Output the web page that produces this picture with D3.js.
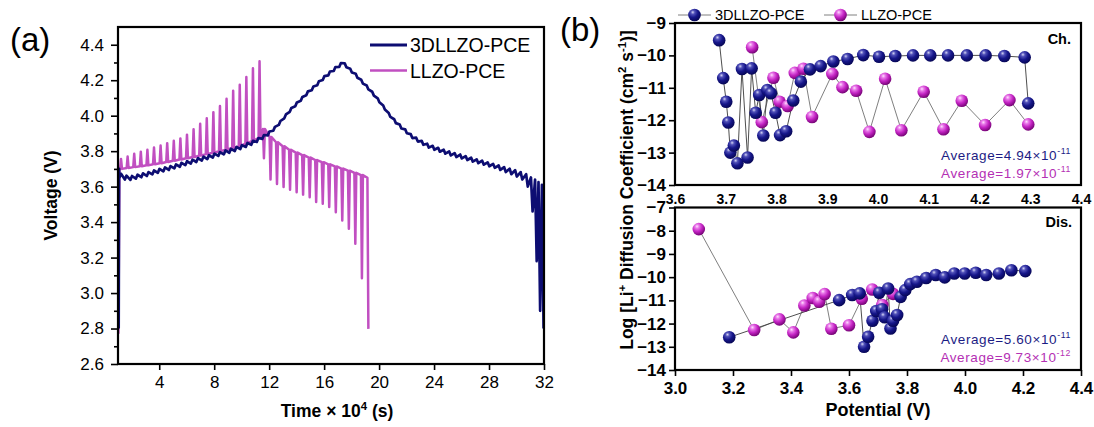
<!DOCTYPE html>
<html>
<head>
<meta charset="utf-8">
<script src="https://d3js.org/d3.v7.min.js"></script>
<style>
  body { margin: 0; background: #fff; }
  svg { display: block; }
</style>
</head>
<body>
<svg id="chart" width="1094" height="427"></svg>
<script>
// ---------- panel (a): GITT voltage profiles (time in 10^4 s, voltage in V)
// 3DLLZO-PCE charge pulses: pulse start, relaxed voltage, top of pulse
const navyChargeT = [1.1, 1.5, 1.9, 2.3, 2.7, 3.1, 3.5, 3.9, 4.3, 4.7, 5.1, 5.5, 5.9, 6.3, 6.7, 7.1, 7.5, 7.9, 8.3, 8.7,
  9.1, 9.5, 9.9, 10.3, 10.7, 11.1, 11.5, 11.9, 12.3, 12.7, 13.1, 13.5, 13.9, 14.3, 14.7, 15.1, 15.5, 15.9, 16.3, 16.7, 17.1]
const navyChargeRest = [3.650, 3.640, 3.638, 3.645, 3.653, 3.660, 3.669, 3.678, 3.686, 3.694, 3.703, 3.712, 3.721, 3.730,
  3.739, 3.747, 3.755, 3.764, 3.773, 3.782, 3.791, 3.801, 3.812, 3.824, 3.836, 3.852, 3.869, 3.889, 3.915, 3.948, 3.985,
  4.022, 4.053, 4.084, 4.115, 4.143, 4.172, 4.201, 4.227, 4.252, 4.275]
const navyChargePeak = [3.672, 3.662, 3.660, 3.667, 3.675, 3.682, 3.691, 3.700, 3.708, 3.716, 3.725, 3.734, 3.743, 3.752,
  3.761, 3.769, 3.777, 3.786, 3.795, 3.804, 3.813, 3.823, 3.834, 3.846, 3.858, 3.874, 3.891, 3.911, 3.937, 3.970, 4.007,
  4.044, 4.075, 4.106, 4.137, 4.165, 4.194, 4.223, 4.249, 4.274, 4.297]
// 3DLLZO-PCE discharge pulses: pulse start, relaxed voltage, bottom of pulse
const navyDisT = [17.5, 17.9, 18.3, 18.7, 19.1, 19.5, 19.9, 20.3, 20.7, 21.1, 21.5, 21.9, 22.3, 22.7, 23.1, 23.5, 23.9,
  24.3, 24.7, 25.1, 25.5, 25.9, 26.3, 26.7, 27.1, 27.5, 27.9, 28.3, 28.7, 29.1, 29.5, 29.9, 30.3, 30.7, 31.05, 31.35, 31.6, 31.85]
const navyDisRest = [4.295, 4.265, 4.236, 4.203, 4.170, 4.135, 4.098, 4.057, 4.015, 3.980, 3.950, 3.923, 3.896, 3.876,
  3.858, 3.842, 3.830, 3.819, 3.808, 3.798, 3.789, 3.781, 3.772, 3.763, 3.754, 3.746, 3.737, 3.728, 3.719, 3.710, 3.701,
  3.693, 3.682, 3.670, 3.652, 3.640, 3.625, 3.610]
const navyDisDip = [4.273, 4.243, 4.214, 4.181, 4.148, 4.113, 4.076, 4.035, 3.993, 3.958, 3.928, 3.901, 3.874, 3.854,
  3.836, 3.820, 3.808, 3.797, 3.786, 3.776, 3.767, 3.759, 3.750, 3.741, 3.732, 3.724, 3.715, 3.706, 3.694, 3.682, 3.670,
  3.657, 3.640, 3.600, 3.460, 3.180, 2.900, 2.800]
const navyStart = [[1.05, 2.80], [1.08, 3.70]]

// LLZO-PCE charge pulses
const pinkChargeT = [1.15, 1.63, 2.11, 2.59, 3.07, 3.55, 4.03, 4.51, 4.99, 5.47, 5.95, 6.43, 6.91, 7.39, 7.87, 8.35, 8.83,
  9.31, 9.79, 10.27, 10.75, 11.23]
const pinkChargeRest = [3.700, 3.705, 3.710, 3.715, 3.720, 3.726, 3.732, 3.739, 3.746, 3.753, 3.760, 3.767, 3.775, 3.783,
  3.791, 3.800, 3.809, 3.819, 3.830, 3.843, 3.858, 3.875]
const pinkChargePeak = [3.756, 3.770, 3.785, 3.797, 3.808, 3.820, 3.832, 3.845, 3.858, 3.872, 3.893, 3.923, 3.955, 3.985,
  4.020, 4.055, 4.095, 4.140, 4.175, 4.218, 4.268, 4.307]
// LLZO-PCE discharge pulses
const pinkDisT = [11.55, 12.03, 12.50, 12.98, 13.45, 13.93, 14.40, 14.88, 15.35, 15.83, 16.30, 16.78, 17.25, 17.73, 18.20, 18.68, 19.15]
const pinkDisRest = [3.925, 3.880, 3.850, 3.828, 3.808, 3.792, 3.778, 3.764, 3.750, 3.738, 3.726, 3.714, 3.702, 3.690, 3.678, 3.665, 3.650]
const pinkDisDip = [3.760, 3.640, 3.615, 3.598, 3.582, 3.568, 3.555, 3.540, 3.513, 3.504, 3.485, 3.456, 3.409, 3.362, 3.278, 3.084, 2.798]
const pinkStart = [[1.03, 2.77], [1.10, 3.70]]

const timeTicks = [4, 8, 12, 16, 20, 24, 28, 32]
const voltTicks = [2.6, 2.8, 3.0, 3.2, 3.4, 3.6, 3.8, 4.0, 4.2, 4.4]
const voltMinor = [2.7, 2.9, 3.1, 3.3, 3.5, 3.7, 3.9, 4.1, 4.3]

// ---------- panel (b): log Li+ diffusion coefficient vs potential
const chNavyV = [3.687, 3.695, 3.701, 3.705, 3.709, 3.716, 3.723, 3.732, 3.743, 3.751, 3.759, 3.766, 3.774, 3.782, 3.789,
  3.798, 3.807, 3.819, 3.833, 3.848, 3.866, 3.887, 3.912, 3.940, 3.971, 4.002, 4.034, 4.069, 4.103, 4.138, 4.175, 4.212,
  4.249, 4.289, 4.296]
const chNavyD = [-9.53, -10.70, -11.43, -12.07, -13.00, -12.78, -13.33, -10.42, -13.15, -10.40, -11.77, -11.22, -12.47,
  -11.07, -11.17, -11.77, -12.46, -12.34, -11.39, -10.81, -10.43, -10.33, -10.19, -10.11, -9.99, -10.04, -10.02, -10.00,
  -10.00, -10.00, -10.00, -10.00, -10.02, -10.06, -11.48]
const chPinkV = [3.752, 3.771, 3.794, 3.806, 3.822, 3.836, 3.853, 3.870, 3.910, 3.930, 3.957, 3.983, 4.014, 4.046, 4.090,
  4.129, 4.165, 4.211, 4.259, 4.296]
const chPinkD = [-9.75, -12.06, -10.69, -11.43, -11.56, -10.54, -10.41, -11.90, -10.57, -10.98, -11.09, -12.36, -10.72,
  -12.31, -11.12, -12.28, -11.40, -12.15, -11.38, -12.13]
const disNavyV = [3.187, 3.566, 3.611, 3.637, 3.652, 3.666, 3.681, 3.694, 3.704, 3.714, 3.723, 3.735, 3.743, 3.752, 3.766,
  3.778, 3.794, 3.811, 3.834, 3.866, 3.899, 3.930, 3.963, 3.999, 4.037, 4.073, 4.117, 4.160, 4.208]
const disNavyD = [-12.59, -10.99, -10.77, -10.70, -13.00, -12.57, -11.88, -11.46, -10.67, -11.38, -11.73, -10.49, -12.21,
  -11.88, -11.63, -10.85, -10.56, -10.30, -10.20, -10.04, -9.91, -10.01, -9.84, -9.84, -9.81, -9.91, -9.84, -9.70, -9.74]
const disPinkV = [3.082, 3.273, 3.360, 3.408, 3.446, 3.475, 3.497, 3.516, 3.539, 3.600, 3.644, 3.680, 3.715, 3.752]
const disPinkD = [-7.93, -12.28, -11.82, -12.38, -11.22, -10.90, -11.06, -10.73, -12.22, -12.07, -10.93, -10.53, -11.20, -10.72]

const chPotTicks = [3.6, 3.7, 3.8, 3.9, 4.0, 4.1, 4.2, 4.3, 4.4]
const chLogTicks = [-14, -13, -12, -11, -10, -9]
const disPotTicks = [3.0, 3.2, 3.4, 3.6, 3.8, 4.0, 4.2, 4.4]
const disLogTicks = [-14, -13, -12, -11, -10, -9, -8, -7]

const seriesNames = ["3DLLZO-PCE", "LLZO-PCE"]
const chAverages = [["4.94", "-11"], ["1.97", "-11"]]
const disAverages = [["5.60", "-11"], ["9.73", "-12"]]

const NAVY = "#0d0d72"
const PINK = "#c14fc1"
const NAVY_TXT = "#1c1c84"
const PINK_TXT = "#b430b4"
const FONT = "Arial, 'Liberation Sans', Helvetica, sans-serif"

const svg = d3.select("#chart").style("font-family", FONT)

// sphere gradients for the markers
const defs = svg.append("defs")
function sphere(id, stops) {
  const g = defs.append("radialGradient").attr("id", id)
    .attr("cx", "0.38").attr("cy", "0.32").attr("r", "0.72").attr("fx", "0.36").attr("fy", "0.28")
  stops.forEach(s => g.append("stop").attr("offset", s[0]).attr("stop-color", s[1]))
}
sphere("ballNavy", [[0, "#d4d4f4"], [0.22, "#5050b8"], [0.55, "#16168a"], [1, "#050550"]])
sphere("ballPink", [[0, "#ffe0ff"], [0.22, "#e878e8"], [0.55, "#c424c4"], [1, "#6e006e"]])

// text with superscripts: parts = [[string, isSup], ...]
function richText(sel, parts, size) {
  let up = false
  parts.forEach(([s, sup]) => {
    const t = sel.append("tspan").text(s)
    if (sup && !up) { t.attr("dy", -size * 0.42).attr("font-size", size * 0.65); up = true }
    else if (sup) { t.attr("font-size", size * 0.65) }
    else if (up) { t.attr("dy", size * 0.42); up = false }
  })
  return sel
}

function styleAxis(g, size, weight) {
  g.select(".domain").remove()
  g.selectAll(".tick line").attr("stroke", "#000").attr("stroke-width", 1.6)
  g.selectAll(".tick text").attr("fill", "#000").attr("font-size", size)
    .attr("font-weight", weight).attr("font-family", FONT)
}

// ================= panel (a)
const xA = d3.scaleLinear().domain([1, 32]).range([118, 544])
const yA = d3.scaleLinear().domain([2.6, 4.5]).range([364, 27])

svg.append("clipPath").attr("id", "clipA").append("rect")
  .attr("x", xA.range()[0]).attr("y", yA.range()[1])
  .attr("width", xA.range()[1] - xA.range()[0]).attr("height", yA.range()[0] - yA.range()[1])

function pulseTrace(start, t, rest, tip, w) {
  const pts = start.slice()
  t.forEach((ti, i) => {
    pts.push([ti, rest[i]], [ti + w / 2, tip[i]], [ti + w, rest[i]])
  })
  return pts
}
function sawTrace(t, rest, tip, w) {
  const pts = []
  t.forEach((ti, i) => { pts.push([ti, rest[i]], [ti + w, tip[i]]) })
  return pts
}

const pinkPts = pulseTrace(pinkStart, pinkChargeT, pinkChargeRest, pinkChargePeak, 0.14)
  .concat(pulseTrace([], pinkDisT, pinkDisRest, pinkDisDip, 0.14))
pinkPts.pop() // last discharge pulse ends at cut-off
const navyPts = navyStart.concat(sawTrace(navyChargeT, navyChargeRest, navyChargePeak, 0.12))
  .concat(sawTrace(navyDisT, navyDisRest, navyDisDip, 0.12))

const lineA = d3.line().x(d => xA(d[0])).y(d => yA(d[1]))
const dataA = svg.append("g").attr("clip-path", "url(#clipA)")
dataA.append("path").attr("d", lineA(pinkPts)).attr("fill", "none")
  .attr("stroke", PINK).attr("stroke-width", 2.5).attr("stroke-linejoin", "round")
dataA.append("path").attr("d", lineA(navyPts)).attr("fill", "none")
  .attr("stroke", NAVY).attr("stroke-width", 2.7).attr("stroke-linejoin", "round")

svg.append("g").attr("transform", `translate(0,${yA.range()[0]})`)
  .call(d3.axisBottom(xA).tickValues(timeTicks).tickSize(6).tickPadding(6).tickFormat(d3.format("d")))
  .call(g => styleAxis(g, 17, "normal"))
svg.append("g").attr("transform", `translate(${xA.range()[0]},0)`)
  .call(d3.axisLeft(yA).tickValues(voltTicks).tickSize(7).tickPadding(7).tickFormat(d3.format(".1f")))
  .call(g => styleAxis(g, 17, "normal"))
svg.append("g").attr("transform", `translate(${xA.range()[0]},0)`)
  .call(d3.axisLeft(yA).tickValues(voltMinor).tickSize(4).tickFormat(""))
  .call(g => styleAxis(g, 17, "normal"))

svg.append("rect").attr("x", xA.range()[0]).attr("y", yA.range()[1])
  .attr("width", xA.range()[1] - xA.range()[0]).attr("height", yA.range()[0] - yA.range()[1])
  .attr("fill", "none").attr("stroke", "#000").attr("stroke-width", 2.2)

// legend (a)
const legA = svg.append("g").attr("font-size", 19.5)
;[[NAVY, 45, seriesNames[0], 2.8], [PINK, 70.5, seriesNames[1], 2.6]].forEach(([c, y, name, w]) => {
  legA.append("line").attr("x1", 370).attr("x2", 407).attr("y1", y).attr("y2", y)
    .attr("stroke", c).attr("stroke-width", w)
  legA.append("text").attr("x", 410).attr("y", y + 7).attr("fill", "#000").text(name)
})

svg.append("text").attr("x", 10).attr("y", 51).attr("font-size", 33).text("(a)")
svg.append("text").attr("transform", `translate(57,${(yA.range()[0] + yA.range()[1]) / 2}) rotate(-90)`)
  .attr("text-anchor", "middle").attr("font-size", 17.5).attr("font-weight", "bold").text("Voltage (V)")
richText(svg.append("text").attr("x", 337).attr("y", 417).attr("text-anchor", "middle")
  .attr("font-size", 17.5).attr("font-weight", "bold"),
  [["Time \u00d7 10", false], ["4", true], [" (s)", false]], 17.5)

// ================= panel (b)
const xB = [675, 1081]
const xCh = d3.scaleLinear().domain([3.6, 4.4]).range(xB)
const yCh = d3.scaleLinear().domain([-14, -9]).range([185, 23])
const xDis = d3.scaleLinear().domain([3.0, 4.4]).range(xB)
const yDis = d3.scaleLinear().domain([-14, -7]).range([370, 207.5])

function panelB(x, y, xTicks, yTicks, xFont, xTickSize, xPad) {
  svg.append("g").attr("transform", `translate(0,${y.range()[0]})`)
    .call(d3.axisBottom(x).tickValues(xTicks).tickSize(xTickSize).tickPadding(xPad).tickFormat(d3.format(".1f")))
    .call(g => styleAxis(g, xFont, "bold"))
  svg.append("g").attr("transform", `translate(${x.range()[0]},0)`)
    .call(d3.axisLeft(y).tickValues(yTicks).tickSize(6).tickPadding(3).tickFormat(d3.format("d")))
    .call(g => styleAxis(g, 17, "bold"))
  svg.append("rect").attr("x", x.range()[0]).attr("y", y.range()[1])
    .attr("width", x.range()[1] - x.range()[0]).attr("height", y.range()[0] - y.range()[1])
    .attr("fill", "none").attr("stroke", "#000").attr("stroke-width", 2.2)
}

function scatterB(x, y, navyX, navyY, pinkX, pinkY) {
  const g = svg.append("g")
  const ln = d3.line().x(d => x(d[0])).y(d => y(d[1]))
  const navy = navyX.map((v, i) => [v, navyY[i]])
  const pink = pinkX.map((v, i) => [v, pinkY[i]])
  g.append("path").attr("d", ln(pink)).attr("fill", "none").attr("stroke", "#707070").attr("stroke-width", 0.9)
  g.append("path").attr("d", ln(navy)).attr("fill", "none").attr("stroke", "#3a3a3a").attr("stroke-width", 0.9)
  g.selectAll(".p").data(pink).join("circle").attr("class", "p")
    .attr("cx", d => x(d[0])).attr("cy", d => y(d[1])).attr("r", 6.3).attr("fill", "url(#ballPink)")
  g.selectAll(".n").data(navy).join("circle").attr("class", "n")
    .attr("cx", d => x(d[0])).attr("cy", d => y(d[1])).attr("r", 6.3).attr("fill", "url(#ballNavy)")
}

scatterB(xCh, yCh, chNavyV, chNavyD, chPinkV, chPinkD)
scatterB(xDis, yDis, disNavyV, disNavyD, disPinkV, disPinkD)
panelB(xDis, yDis, disPotTicks, disLogTicks, 17, 6, 6)
panelB(xCh, yCh, chPotTicks, chLogTicks, 14, 0, 9)

function averages(list, yTop) {
  list.forEach(([m, e], i) => {
    richText(svg.append("text").attr("x", 1071).attr("y", yTop + i * 18).attr("text-anchor", "end")
      .attr("font-size", 13.5).attr("letter-spacing", 0.6).attr("fill", i === 0 ? NAVY_TXT : PINK_TXT),
      [["Average=" + m + "\u00d710", false], [e, true]], 13.5)
  })
}
averages(chAverages, 160)
averages(disAverages, 344)

svg.append("text").attr("x", 1071).attr("y", 44).attr("text-anchor", "end")
  .attr("font-size", 14.5).attr("font-weight", "bold").text("Ch.")
svg.append("text").attr("x", 1072).attr("y", 227).attr("text-anchor", "end")
  .attr("font-size", 14.5).attr("font-weight", "bold").text("Dis.")

// legend (b)
const legB = svg.append("g").attr("font-size", 14.5)
;[[678, "url(#ballNavy)", seriesNames[0]], [824, "url(#ballPink)", seriesNames[1]]].forEach(([x0, fill, name]) => {
  legB.append("line").attr("x1", x0).attr("x2", x0 + 33).attr("y1", 15).attr("y2", 15)
    .attr("stroke", "#808080").attr("stroke-width", 1)
  legB.append("circle").attr("cx", x0 + 16.5).attr("cy", 15).attr("r", 6.3).attr("fill", fill)
  legB.append("text").attr("x", x0 + 37).attr("y", 20).attr("fill", "#000").text(name)
})

svg.append("text").attr("x", 560).attr("y", 41).attr("font-size", 33).text("(b)")
svg.append("text").attr("x", 878).attr("y", 416).attr("text-anchor", "middle")
  .attr("font-size", 18).attr("font-weight", "bold").text("Potential (V)")
richText(svg.append("text").attr("transform", "translate(633,190) rotate(-90)")
  .attr("text-anchor", "middle").attr("font-size", 17.5).attr("font-weight", "bold"),
  [["Log [Li", false], ["+", true], [" Diffusion Coefficient (cm", false], ["2", true], [" s", false], ["-1", true], [")]", false]], 17.5)
</script>
</body>
</html>
